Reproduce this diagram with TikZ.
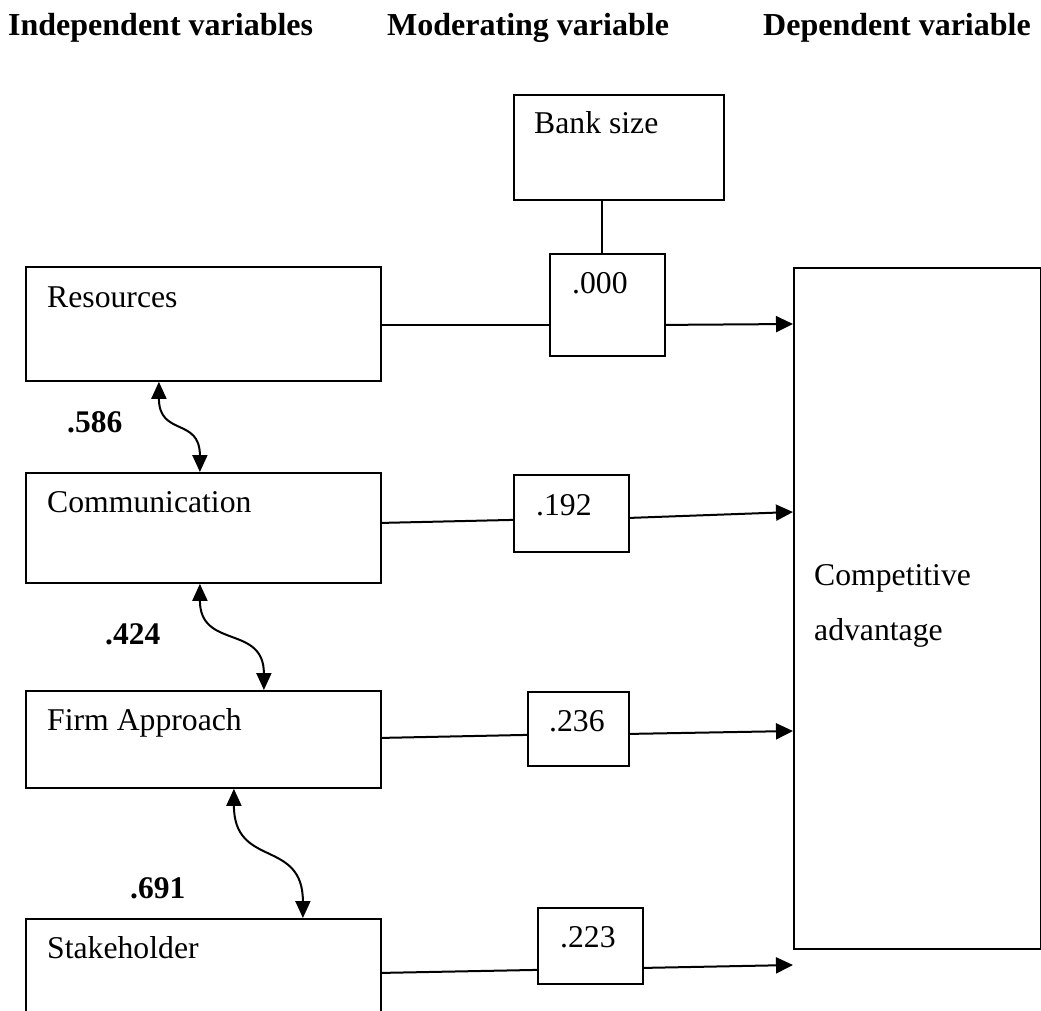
\documentclass[tikz,border=0pt]{standalone}
\usepackage{fontspec}
\setmainfont{Liberation Serif}
\usetikzlibrary{arrows.meta}
\begin{document}
\begin{tikzpicture}[x=1pt,y=-1pt,
  box/.style={draw, line width=1.8pt, rectangle, inner sep=0pt, anchor=north west},
  txt/.style={inner sep=0pt, anchor=base west, font=\fontsize{31.7}{38}\selectfont},
  hd/.style={inner sep=0pt, anchor=base west, font=\fontsize{32}{38}\selectfont\bfseries},
  num/.style={inner sep=0pt, anchor=base west, font=\fontsize{31.5}{38}\selectfont\bfseries},
  conn/.style={line width=2pt},
  arr/.style={conn, -{Triangle[length=17pt,width=16pt]}},
  darr/.style={conn, {Triangle[length=17pt,width=15pt]}-{Triangle[length=17pt,width=15pt]}}]
\useasboundingbox (0,0) rectangle (1041,1010);
\clip (0,0) rectangle (1041,1010);
% headings
\node[hd] (h1) at (8,35) {Independent variables};
\node[hd] (h2) at (387,35) {Moderating variable};
\node[hd] (h3) at (763,35) {Dependent variable};
% boxes
\node[box, minimum width=210pt, minimum height=105pt] (bank) at (513,94) {};
\node[box, minimum width=115pt, minimum height=102pt] (v000) at (549,253) {};
\node[box, minimum width=355pt, minimum height=114pt] (res) at (25,266) {};
\node[box, minimum width=355pt, minimum height=110pt] (comm) at (25,472) {};
\node[box, minimum width=355pt, minimum height=97pt] (firm) at (25,690) {};
\node[box, minimum width=355pt, minimum height=130pt] (stake) at (25,918) {};
\node[box, minimum width=115pt, minimum height=77pt] (v192) at (513,474) {};
\node[box, minimum width=101pt, minimum height=74pt] (v236) at (527,691) {};
\node[box, minimum width=105pt, minimum height=76pt] (v223) at (537,907) {};
\node[box, minimum width=247pt, minimum height=681pt] (comp) at (793,267) {};
% texts
\node[txt] (tbank) at (534,133) {Bank size};
\node[txt] (t000) at (572,293) {.000};
\node[txt] (tres) at (47,307) {Resources};
\node[txt] (tcomm) at (47,512) {Communication};
\node[txt] (tfirm) at (47,730) {Firm Approach};
\node[txt] (tstake) at (47,958) {Stakeholder};
\node[txt] (t192) at (536,515) {.192};
\node[txt] (t236) at (549,731) {.236};
\node[txt] (t223) at (560,947) {.223};
\node[txt] (tcomp1) at (814,585) {Competitive};
\node[txt] (tcomp2) at (814,640) {advantage};
\node[num] (c586) at (67,432) {.586};
\node[num] (c424) at (105,644) {.424};
\node[num] (c691) at (130,898) {.691};
% moderator link
\draw[conn] ([xshift=-5.5pt]v000.north) -- ([xshift=-5.5pt]v000.north |- bank.south);
% paths to dependent variable
\draw[conn] ([yshift=-1pt]res.east) -- ([yshift=-20pt]v000.west);
\draw[arr] ([yshift=-20pt]v000.east) -- ([yshift=-57pt]comp.north west);
\draw[conn] ([yshift=5pt]comm.east) -- ([yshift=-6.5pt]v192.west);
\draw[arr] ([yshift=-4.5pt]v192.east) -- ([yshift=-245pt]comp.north west);
\draw[conn] ([yshift=1.5pt]firm.east) -- ([yshift=-6pt]v236.west);
\draw[arr] ([yshift=-5pt]v236.east) -- ([yshift=-464pt]comp.north west);
\draw[conn] ([yshift=11pt]stake.east) -- ([yshift=-24pt]v223.west);
\draw[arr] ([yshift=-22pt]v223.east) -- ([yshift=-698pt]comp.north west);
% correlations
\draw[darr] ([xshift=-44.5pt]res.south) .. controls +(0,55) and +(0,-55) .. ([xshift=-3.5pt]comm.north);
\draw[darr] ([xshift=-3.5pt]comm.south) .. controls +(0,66) and +(0,-66) .. ([xshift=60.5pt]firm.north);
\draw[darr] ([xshift=30.5pt]firm.south) .. controls +(0,80) and +(0,-80) .. ([xshift=99.5pt]stake.north);
\end{tikzpicture}
\end{document}
